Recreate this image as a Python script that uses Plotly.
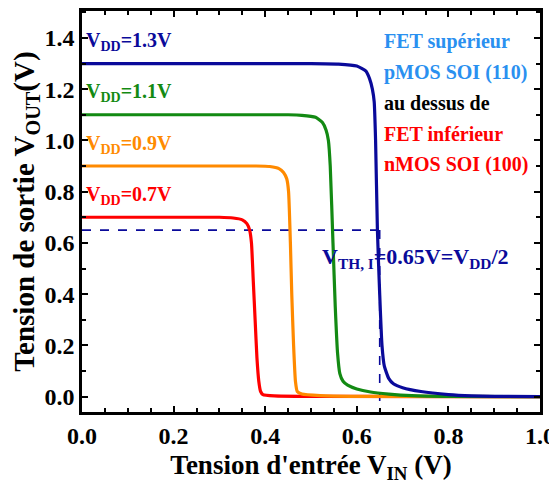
import plotly.graph_objects as go

# Transfer curves V_OUT vs V_IN for each supply voltage
vin_07 = [0.0, 0.30, 0.33, 0.35, 0.36, 0.366, 0.370, 0.374, 0.378, 0.382, 0.386, 0.390, 0.395, 0.42, 0.50, 1.0]
vout_07 = [0.70, 0.70, 0.697, 0.69, 0.675, 0.65, 0.60, 0.45, 0.30, 0.15, 0.06, 0.02, 0.008, 0.003, 0.001, 0.0]

vin_09 = [0.0, 0.38, 0.41, 0.43, 0.44, 0.447, 0.451, 0.455, 0.458, 0.462, 0.466, 0.470, 0.48, 0.52, 0.60, 1.0]
vout_09 = [0.90, 0.90, 0.898, 0.89, 0.875, 0.85, 0.80, 0.60, 0.40, 0.20, 0.06, 0.02, 0.01, 0.004, 0.001, 0.0]

vin_11 = [0.0, 0.45, 0.48, 0.51, 0.525, 0.533, 0.538, 0.542, 0.548, 0.553, 0.558, 0.563, 0.57, 0.58, 0.60, 0.63, 0.67, 0.72, 0.80, 1.0]
vout_11 = [1.10, 1.10, 1.098, 1.09, 1.07, 1.04, 1.00, 0.90, 0.60, 0.35, 0.17, 0.09, 0.06, 0.045, 0.03, 0.018, 0.01, 0.004, 0.001, 0.0]

vin_13 = [0.0, 0.50, 0.56, 0.60, 0.62, 0.628, 0.634, 0.638, 0.641, 0.645, 0.650, 0.655, 0.660, 0.670, 0.680, 0.70, 0.74, 0.80, 0.85, 0.90, 1.0]
vout_13 = [1.30, 1.30, 1.298, 1.29, 1.27, 1.24, 1.20, 1.15, 1.00, 0.65, 0.40, 0.20, 0.12, 0.07, 0.05, 0.035, 0.02, 0.008, 0.003, 0.001, 0.0]

vth = 0.65
vdd_labels = ["1.3V", "1.1V", "0.9V", "0.7V"]
vdd_values = [1.3, 1.1, 0.9, 0.7]

x_ticks = [0.0, 0.2, 0.4, 0.6, 0.8, 1.0]
y_ticks = [0.0, 0.2, 0.4, 0.6, 0.8, 1.0, 1.2, 1.4]

NAVY = "#0A0A9A"
GREEN = "#138A13"
ORANGE = "#FF8A00"
RED = "#FF0000"
SKY = "#2A90F0"
FONT = "Liberation Serif"

fig = go.Figure()

# threshold guide lines
fig.add_trace(go.Scatter(x=[0, vth], y=[vth, vth], mode="lines",
                         line=dict(color=NAVY, width=1.6, dash="dash"), showlegend=False))
fig.add_trace(go.Scatter(x=[vth, vth], y=[vth, -0.06], mode="lines",
                         line=dict(color=NAVY, width=1.6, dash="dash"), showlegend=False))

series = [(vin_07, vout_07, RED), (vin_09, vout_09, ORANGE),
          (vin_11, vout_11, GREEN), (vin_13, vout_13, NAVY)]
for xs, ys, c in series:
    fig.add_trace(go.Scatter(x=xs, y=ys, mode="lines", line=dict(color=c, width=3.2, shape="spline", smoothing=0.5),
                             showlegend=False))

for lab, v, c in zip(vdd_labels, vdd_values, [NAVY, GREEN, ORANGE, RED]):
    fig.add_annotation(x=0.005, y=v + 0.085, xref="x", yref="y", xanchor="left", yanchor="middle",
                       text="<b>V<sub>DD</sub>=" + lab + "</b>", showarrow=False,
                       font=dict(family=FONT, size=20, color=c))

side_lines = [("FET supérieur", SKY), ("pMOS SOI (110)", SKY), ("au dessus de", "black"),
              ("FET inférieur", RED), ("nMOS SOI (100)", RED)]
for i, (t, c) in enumerate(side_lines):
    fig.add_annotation(x=0.655, y=1.385 - i * 0.12, xref="x", yref="y", xanchor="left", yanchor="middle",
                       text="<b>" + t + "</b>", showarrow=False, font=dict(family=FONT, size=20, color=c))

fig.add_annotation(x=0.52, y=0.54, xref="x", yref="y", xanchor="left", yanchor="middle",
                   text="<b>V<sub>TH, I</sub>=0.65V=V<sub>DD</sub>/2</b>", showarrow=False,
                   font=dict(family=FONT, size=22, color=NAVY))

axis_common = dict(showgrid=False, zeroline=False, showline=True, linecolor="black", linewidth=2.5,
                   mirror="allticks", ticks="inside", ticklen=6, tickwidth=2, tickcolor="black",
                   automargin=False,
                   tickfont=dict(family=FONT, size=24, color="black"))

fig.update_xaxes(range=[0, 1.0], tickvals=x_ticks, ticktext=["<b>%.1f</b>" % v for v in x_ticks],
                 minor=dict(dtick=0.05, ticks="inside", ticklen=4, tickwidth=2, tickcolor="black"),
                 title=dict(text="<b>Tension d'entrée V<sub>IN</sub> (V)</b>", standoff=8,
                            font=dict(family=FONT, size=27, color="black")),
                 **axis_common)
fig.update_yaxes(range=[-0.06, 1.505], tickvals=y_ticks, ticktext=["<b>%.1f</b>" % v for v in y_ticks],
                 minor=dict(dtick=0.1, ticks="inside", ticklen=4, tickwidth=2, tickcolor="black"),
                 title=dict(text="<b>Tension de sortie V<sub>OUT</sub>(V)</b>", standoff=4,
                            font=dict(family=FONT, size=29, color="black")),
                 **axis_common)

# page body has an 8px margin; compensate so the plot frame lands where the reference has it
fig.update_layout(width=557, height=490, margin=dict(l=74, r=25, t=3, b=86),
                  font=dict(family=FONT, color="black"),
                  plot_bgcolor="white", paper_bgcolor="white", showlegend=False)

fig.write_html("out.html")
